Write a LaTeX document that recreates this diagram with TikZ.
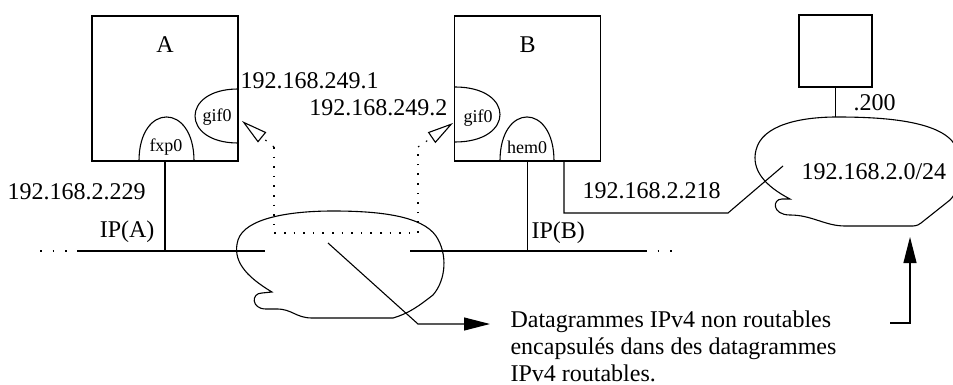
\documentclass[tikz,border=0pt]{standalone}
\usepackage{fontspec}
\setmainfont{Liberation Serif}
\usetikzlibrary{arrows.meta,positioning}

\begin{document}
\begin{tikzpicture}[
    x=1pt, y=-1pt,
    line width=1.1pt,
    font=\fontsize{24}{28}\selectfont,
    hostbox/.style={draw, minimum width=146pt, minimum height=145pt, inner sep=0pt},
    lbl/.style={inner sep=0pt},
    ifname/.style={inner sep=0pt, font=\fontsize{18}{20}\selectfont},
    tunnel/.style={dash pattern=on 1.6pt off 8pt},
    busend/.style={dash pattern=on 1.6pt off 11pt},
    opentip/.style={-{Triangle[open,length=26pt,width=13pt,line width=1.1pt]}},
    filltip/.style={-{Triangle[length=26pt,width=13pt]}}
]
\useasboundingbox (0,0) rectangle (953,385);

% hosts
\node[hostbox] (A) at (165,88.5) {};
\node[hostbox] (B) at (527.5,88.5) {};
\node[hostbox, minimum width=73pt, minimum height=72pt] (C) at (835.5,51) {};
\node[lbl] (nameA) at (165,45) {A};
\node[lbl] (nameB) at (527.5,45) {B};

% interfaces
\draw (238,89) .. controls (180.7,89) and (180.7,143) .. (238,143);
\draw (139,161) .. controls (139,102.3) and (194,102.3) .. (194,161);
\draw (455,87) .. controls (515,87) and (515,142) .. (455,142);
\draw (500,161) .. controls (500,102.3) and (554,102.3) .. (554,161);
\node[ifname] (gifA) at (217,117) {gif0};
\node[ifname] (fxpA) at (166,147) {fxp0};
\node[ifname] (gifB) at (478,118) {gif0};
\node[ifname] (hemB) at (527,147) {hem0};

% addresses
\node[lbl, anchor=west] (ipgifA) at (240,81) {192.168.249.1};
\node[lbl, anchor=east] (ipgifB) at (448,108) {192.168.249.2};
\node[lbl, anchor=west] (ipfxpA) at (7,192) {192.168.2.229};
\node[lbl, anchor=east] (ipA) at (155,232) {IP(A)};
\node[lbl, anchor=west] (ipB) at (531,233) {IP(B)};
\node[lbl, anchor=west] (iphemB) at (582,191) {192.168.2.218};
\node[lbl, anchor=west] (ipC) at (853,103) {.200};
\node[lbl, anchor=west] (lan) at (801,172) {192.168.2.0/24};
\node[lbl, anchor=west, align=left, font=\fontsize{24}{27}\selectfont] (note) at (510,346)
    {Datagrammes IPv4 non routables\\encapsulés dans des datagrammes\\IPv4 routables.};

% clouds
\draw (272,292) .. controls (245,276) and (232,260) .. (238,240)
    .. controls (245,218) and (290,211) .. (333,211)
    .. controls (380,211) and (422,216) .. (436,236)
    .. controls (448,254) and (446,280) .. (433,295)
    .. controls (420,305) and (410,313) .. (393,318)
    -- (312,318)
    .. controls (296,318) and (292,309) .. (277,309)
    -- (266,309)
    .. controls (251,309) and (251,293) .. (262,293) -- cycle;
\draw (790,199) .. controls (765,186) and (751,170) .. (756,150)
    .. controls (762,125) and (800,117) .. (837,117)
    .. controls (880,117) and (940,120) .. (955,145)
    .. controls (965,165) and (960,190) .. (950,200)
    -- (921,223) .. controls (917,226) and (915,226) .. (910,226)
    -- (845,226)
    .. controls (825,226) and (812,215) .. (790,215)
    .. controls (772,215) and (772,199) .. (782,199) -- cycle;

% network A/B
\coordinate (busAl) at (40,251);
\coordinate (busAs) at (77,251);
\coordinate (busAe) at (265,251);
\coordinate (busBs) at (410,251);
\coordinate (busBe) at (645,251);
\coordinate (busBr) at (677,251);
\draw[busend] (busAl) -- (busAs);
\draw (busAs) -- (busAe);
\draw (busBs) -- (busBe);
\draw[busend] (busBe) -- (busBr);
\draw (A.south) -- (A.south |- busAe);
\draw (B.south) -- (B.south |- busBs);

% hem0 to 192.168.2.0/24
\coordinate (hemout) at (564,161);
\coordinate (hemdown) at (564,213);
\coordinate (lanend) at (728,213);
\coordinate (lanin) at (783,166);
\draw (hemout) -- (hemdown) -- (lanend) -- (lanin);
\coordinate (lantop) at (835.5,117);
\draw (C.south) -- (lantop);

% tunnel
\coordinate (tipA) at (242,121);
\coordinate (tunAup) at (274,147);
\coordinate (tunAdn) at (274,233);
\coordinate (tunBdn) at (418,233);
\coordinate (tunBup) at (418,147);
\coordinate (tipB) at (453,123);
\draw[tunnel] (tunAup) -- (tunAdn) -- (tunBdn) -- (tunBup);
\draw[tunnel, opentip] (tunAup) -- (tipA);
\draw[tunnel, opentip] (tunBup) -- (tipB);

% annotations
\coordinate (pktfrom) at (328,243);
\coordinate (pktbend) at (418,324);
\coordinate (pktto) at (490,324);
\draw[filltip] (pktfrom) -- (pktbend) -- (pktto);
\coordinate (lanfoot) at (890,323);
\coordinate (lanbend) at (910,323);
\coordinate (lanarr) at (910,237);
\draw[filltip] (lanfoot) -- (lanbend) -- (lanarr);
\end{tikzpicture}
\end{document}
